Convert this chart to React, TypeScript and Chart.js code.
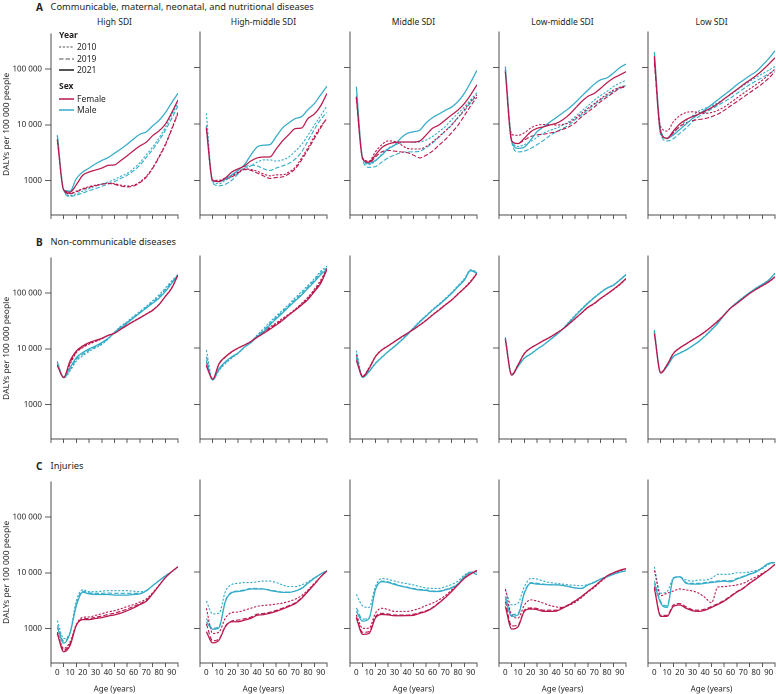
import React, { useEffect, useRef } from "react";
import { Chart, registerables } from "chart.js";

Chart.register(...registerables);

// ---------- data ----------
const AGES = [0, 5, 10, 15, 20, 25, 30, 35, 40, 45, 50, 55, 60, 65, 70, 75, 80, 85, 90, 95];
const X_TICKS = [-5, 5, 15, 25, 35, 45, 55, 65, 75, 85, 95];
const Y_TICKS = [1000, 10000, 100000];
const YEARS = ["2010", "2019", "2021"];
const SEXES = ["Female", "Male"];
const ROW_LETTERS = ["A", "B", "C"];
const ROW_TITLES = [
  "Communicable, maternal, neonatal, and nutritional diseases",
  "Non-communicable diseases",
  "Injuries",
];
const COLUMN_TITLES = ["High SDI", "High-middle SDI", "Middle SDI", "Low-middle SDI", "Low SDI"];

// series order in each panel: Female 2010, Female 2019, Female 2021, Male 2010, Male 2019, Male 2021
const A_HIGH = [
  [5500, 680, 590, 650, 720, 780, 830, 870, 900, 880, 830, 800, 830, 950, 1200, 1700, 2700, 4500, 8500, 17000],
  [5300, 670, 580, 630, 700, 760, 810, 860, 890, 860, 800, 770, 800, 920, 1150, 1650, 2600, 4300, 8200, 16000],
  [5500, 680, 620, 850, 1250, 1430, 1550, 1680, 1880, 1920, 2300, 2800, 3450, 4200, 4900, 6400, 7800, 10300, 16500, 28000],
  [6500, 680, 540, 580, 650, 720, 800, 870, 950, 1050, 1200, 1350, 1650, 2100, 2900, 4000, 5800, 9000, 15000, 25000],
  [6300, 670, 520, 550, 600, 660, 720, 790, 870, 960, 1100, 1250, 1500, 1900, 2600, 3600, 5200, 8000, 13000, 22000],
  [6500, 680, 650, 1090, 1430, 1680, 2000, 2300, 2600, 3100, 3700, 4500, 5600, 6800, 7500, 9600, 12000, 16500, 25000, 37000],
];
const A_HIGH_MIDDLE = [
  [9000, 1000, 1000, 1100, 1200, 1400, 1600, 1550, 1450, 1300, 1200, 1250, 1250, 1400, 1700, 2500, 3800, 6000, 9000, 12500],
  [8000, 980, 980, 1050, 1150, 1350, 1550, 1500, 1350, 1200, 1080, 1120, 1150, 1300, 1600, 2300, 3500, 5500, 8500, 13000],
  [8500, 1000, 950, 1100, 1400, 1600, 1800, 2200, 2500, 2600, 2600, 3600, 5000, 6500, 8300, 8500, 12500, 15000, 21000, 35000],
  [15500, 950, 870, 1000, 1150, 1350, 1600, 1800, 2100, 2300, 2300, 2200, 2300, 2600, 3300, 4300, 6300, 9500, 14000, 21000],
  [9500, 900, 800, 850, 1000, 1300, 1700, 1850, 1800, 1600, 1500, 1650, 1800, 2000, 2400, 3200, 5000, 8000, 12000, 16000],
  [9000, 1000, 950, 1050, 1250, 1500, 1900, 2800, 3900, 4200, 4300, 6000, 8500, 10500, 12500, 13500, 18000, 23000, 33000, 47000],
];
const A_MIDDLE = [
  [30000, 2500, 2200, 3200, 4300, 5000, 4900, 4300, 3700, 3600, 3600, 4000, 4800, 6000, 7500, 9500, 13000, 18000, 25000, 33000],
  [28000, 2400, 2000, 2600, 3200, 3400, 3300, 3200, 3100, 2800, 2500, 2800, 3300, 4200, 5300, 7000, 9500, 14000, 21000, 30000],
  [30000, 2400, 2100, 2800, 3800, 4400, 4700, 4800, 4800, 4800, 5000, 6400, 8400, 9600, 11800, 14500, 17700, 23000, 33000, 50000],
  [32000, 2500, 1900, 2200, 2900, 3700, 4200, 4600, 4800, 4700, 4800, 5200, 6000, 7300, 9000, 12000, 15500, 20000, 27000, 36000],
  [30000, 2300, 1700, 1750, 2100, 2500, 2800, 3100, 3200, 3200, 3300, 3800, 4600, 5800, 7500, 9800, 13000, 17000, 24000, 33000],
  [46000, 2450, 2000, 2250, 2800, 3600, 4200, 5600, 6800, 7300, 7800, 10500, 13000, 15000, 17500, 20000, 25000, 35000, 55000, 90000],
];
const A_LOW_MIDDLE = [
  [90000, 6500, 6300, 7000, 8500, 9500, 9800, 9800, 9600, 9800, 10500, 12500, 15500, 19000, 23000, 28000, 34000, 40000, 45000, 48000],
  [85000, 5000, 4500, 5200, 6000, 6400, 6600, 6900, 7300, 8000, 8900, 10500, 13500, 16500, 20000, 25000, 30000, 36000, 43000, 46000],
  [85000, 5000, 4500, 5600, 7300, 8400, 8900, 9600, 10300, 11800, 14500, 19000, 25000, 31000, 35000, 43000, 54000, 65000, 74000, 85000],
  [95000, 5500, 4000, 4300, 4900, 5800, 6900, 7700, 8400, 9500, 11000, 13500, 17000, 21000, 26500, 32000, 38000, 46000, 53000, 60000],
  [90000, 4800, 3200, 3300, 3700, 4300, 5100, 6200, 7300, 8300, 9600, 12000, 14500, 18000, 22000, 27000, 32000, 38000, 44000, 48000],
  [105000, 5000, 3700, 3900, 5200, 7300, 8900, 10800, 13000, 15700, 19000, 24000, 31000, 40000, 51000, 61000, 66000, 80000, 100000, 116000],
];
const A_LOW = [
  [130000, 9000, 7500, 11000, 14000, 16000, 16500, 16000, 15500, 16000, 17500, 20000, 24000, 29000, 35000, 42000, 50000, 60000, 75000, 95000],
  [120000, 7000, 5500, 7000, 9000, 10500, 11500, 12000, 12500, 13500, 15000, 17500, 21000, 25000, 30000, 36000, 43000, 52000, 65000, 85000],
  [160000, 7000, 5600, 7500, 10000, 12000, 13500, 15000, 17000, 19500, 23000, 28000, 34000, 41000, 50000, 60000, 72000, 90000, 115000, 150000],
  [150000, 8000, 5500, 7000, 9000, 11500, 14000, 17000, 19000, 21000, 24000, 28000, 33000, 40000, 48000, 57000, 67000, 78000, 90000, 105000],
  [140000, 6500, 5000, 5500, 6800, 8500, 11000, 13500, 16000, 18500, 21500, 25000, 29000, 35000, 42000, 50000, 58000, 67000, 78000, 90000],
  [190000, 7500, 5600, 6400, 8000, 10000, 12500, 15000, 18000, 22000, 27000, 33000, 40000, 50000, 60000, 72000, 85000, 110000, 145000, 200000],
];

const B_HIGH = [
  [5300, 3100, 5300, 8600, 10500, 12200, 13500, 15200, 17500, 19500, 23000, 27000, 31500, 36500, 42500, 50000, 63000, 88000, 125000, 215000],
  [5100, 3050, 5700, 8900, 10900, 12600, 13900, 15300, 17300, 19200, 22700, 26700, 31200, 36200, 42200, 49500, 62500, 87500, 123000, 213000],
  [5000, 3100, 6100, 9200, 11300, 13000, 14200, 15500, 17500, 19000, 22500, 26500, 31000, 36000, 42000, 49000, 62000, 87000, 122000, 212000],
  [6000, 3000, 4000, 6100, 7500, 9000, 10400, 12000, 15000, 20000, 25600, 31000, 38500, 47000, 58000, 73000, 93000, 123000, 165000, 217000],
  [5700, 3050, 4300, 6500, 8000, 9500, 10800, 12500, 15200, 19800, 25000, 30000, 37000, 45500, 56000, 69000, 87000, 115000, 157000, 214000],
  [5500, 3100, 4600, 7000, 8600, 10000, 11300, 13000, 15500, 19500, 24000, 29000, 36000, 44000, 54000, 66000, 81000, 107000, 150000, 212000],
];
const B_HIGH_MIDDLE = [
  [5500, 2800, 5200, 6900, 8500, 9900, 11300, 13100, 16000, 19500, 23500, 28000, 33500, 40000, 49000, 62000, 80000, 110000, 160000, 260000],
  [5000, 2800, 5200, 6900, 8500, 10000, 11300, 13000, 15700, 18800, 22500, 26800, 32000, 39000, 48000, 60000, 76000, 105000, 150000, 255000],
  [4800, 2800, 5300, 7000, 8600, 10000, 11300, 13000, 15500, 18200, 21500, 25600, 31000, 38500, 47000, 58000, 73000, 100000, 140000, 250000],
  [9200, 2800, 4000, 5300, 6600, 8000, 10200, 12800, 17000, 22000, 29000, 37000, 47000, 60000, 78000, 100000, 130000, 170000, 230000, 285000],
  [7000, 2700, 4100, 5500, 6800, 8100, 10300, 12600, 16400, 20500, 27000, 35000, 44500, 57000, 73000, 93000, 122000, 160000, 215000, 265000],
  [6000, 2700, 4300, 5700, 7000, 8200, 10400, 12400, 15900, 19500, 25600, 33000, 42000, 54000, 69000, 87000, 115000, 150000, 200000, 250000],
];
const B_MIDDLE = [
  [7500, 3200, 4500, 7100, 9300, 11000, 13000, 15300, 18000, 21300, 25800, 31500, 39000, 48000, 59000, 72000, 92000, 117000, 155000, 215000],
  [6500, 3100, 4400, 7000, 9200, 10900, 12900, 15300, 18000, 21300, 25500, 31000, 38500, 47000, 58000, 71000, 90000, 115000, 150000, 210000],
  [6000, 3100, 4300, 7000, 9200, 10900, 13000, 15500, 18200, 21500, 25600, 31000, 38500, 47000, 58000, 71000, 91000, 115000, 150000, 212000],
  [9000, 3100, 3900, 5400, 6900, 8700, 10800, 13600, 17500, 23000, 30000, 38000, 48500, 60000, 76000, 97000, 128000, 170000, 245000, 225000],
  [8000, 3000, 3800, 5300, 6800, 8600, 10700, 13400, 17200, 22700, 29500, 37500, 47500, 59000, 74000, 95000, 125000, 165000, 240000, 218000],
  [7000, 3000, 3800, 5300, 6800, 8600, 10600, 13300, 17000, 22500, 29000, 37000, 47000, 58000, 73000, 93000, 123000, 160000, 236000, 212000],
];
const B_LOW_MIDDLE = [
  [15000, 3400, 5100, 8100, 10100, 11700, 13600, 15600, 18300, 21600, 26500, 33000, 41500, 52000, 61000, 75000, 90000, 108000, 132000, 168000],
  [14500, 3300, 5000, 8000, 10000, 11600, 13500, 15500, 18200, 21500, 26600, 33300, 41800, 52500, 61500, 75500, 90500, 109000, 134000, 170000],
  [14000, 3300, 5000, 8000, 10000, 11600, 13500, 15500, 18200, 21500, 26700, 33500, 42000, 53000, 62000, 76000, 91000, 110000, 135000, 172000],
  [15500, 3400, 4800, 6700, 7900, 9600, 11400, 14000, 17300, 22000, 29000, 38500, 50000, 64000, 80000, 98000, 117000, 133000, 163000, 205000],
  [15000, 3300, 4700, 6600, 7800, 9500, 11300, 13900, 17100, 21700, 28500, 37500, 49000, 63000, 79000, 97000, 116000, 131000, 161000, 202000],
  [14500, 3300, 4700, 6600, 7800, 9500, 11300, 13900, 17000, 21500, 28000, 37000, 48000, 62000, 78000, 96000, 115000, 130000, 160000, 200000],
];
const B_LOW = [
  [19000, 3700, 5100, 8100, 10100, 11900, 14000, 16400, 19600, 24200, 30500, 39000, 51500, 62500, 76500, 93500, 110000, 127000, 148000, 180000],
  [18500, 3600, 5000, 8000, 10000, 11800, 13900, 16300, 19500, 24100, 30200, 38700, 51200, 62200, 76200, 93200, 110000, 127500, 149000, 183000],
  [18000, 3600, 5000, 8000, 10000, 11800, 13900, 16300, 19500, 24000, 30000, 38500, 51000, 62000, 76000, 93000, 110000, 128000, 150000, 185000],
  [21000, 3700, 4800, 7100, 8200, 9300, 11000, 13200, 16600, 21500, 28000, 39500, 52000, 65000, 80000, 97000, 116000, 136000, 162000, 215000],
  [20500, 3600, 4700, 7000, 8100, 9200, 10900, 13100, 16400, 21200, 27700, 39000, 51500, 64500, 79500, 96500, 115500, 135500, 161000, 213000],
  [20000, 3600, 4700, 7000, 8100, 9200, 10900, 13000, 16300, 21000, 27500, 38500, 51000, 64000, 79000, 96000, 115000, 135000, 160000, 212000],
];

const C_HIGH = [
  [870, 440, 580, 1200, 1600, 1620, 1730, 1850, 2000, 2100, 2270, 2500, 2700, 3000, 3400, 4400, 6000, 8200, 10500, 12900],
  [840, 410, 540, 1170, 1500, 1520, 1600, 1680, 1800, 1900, 2050, 2250, 2500, 2800, 3200, 4250, 5900, 8200, 10500, 12900],
  [810, 385, 500, 1150, 1450, 1450, 1520, 1580, 1680, 1770, 1900, 2100, 2350, 2700, 3100, 4200, 5900, 8200, 10500, 12900],
  [1400, 665, 870, 3200, 5000, 4600, 4600, 4700, 4800, 4800, 4800, 4800, 4700, 4600, 4800, 5900, 7300, 8900, 10500, 12900],
  [1150, 600, 840, 2800, 4700, 4400, 4300, 4300, 4350, 4300, 4300, 4300, 4300, 4300, 4700, 5900, 7250, 8850, 10500, 12900],
  [1050, 550, 830, 2600, 4500, 4200, 4100, 4100, 4100, 4000, 4000, 4000, 4100, 4200, 4800, 5900, 7200, 8800, 10500, 12900],
];
const C_HIGH_MIDDLE = [
  [2270, 810, 860, 1520, 1900, 1950, 2100, 2270, 2450, 2550, 2600, 2700, 2800, 3000, 3300, 3800, 4800, 6300, 8200, 10500],
  [1200, 600, 650, 1100, 1350, 1400, 1480, 1580, 1780, 1830, 1930, 2080, 2280, 2530, 2830, 3500, 4600, 6100, 8200, 10500],
  [870, 550, 620, 1070, 1310, 1310, 1400, 1500, 1700, 1750, 1850, 2000, 2200, 2450, 2750, 3400, 4500, 6000, 8200, 10500],
  [3050, 1800, 1850, 4500, 6000, 6300, 6500, 6500, 6700, 6900, 6900, 6500, 5900, 5500, 5500, 5900, 6700, 7900, 9200, 10500],
  [1500, 1000, 1080, 3100, 4400, 4600, 4800, 5100, 5100, 5000, 4800, 4600, 4400, 4400, 4600, 5200, 6400, 7800, 9200, 10500],
  [1300, 960, 1030, 3000, 4300, 4500, 4700, 5000, 5000, 5000, 4700, 4500, 4350, 4350, 4600, 5100, 6300, 7700, 9200, 10500],
];
const C_MIDDLE = [
  [1730, 1000, 1000, 1850, 2270, 2150, 2000, 2000, 2000, 2100, 2270, 2550, 2800, 3200, 3800, 4800, 6100, 7900, 9500, 10700],
  [1600, 850, 870, 1600, 1850, 1800, 1720, 1720, 1720, 1780, 1900, 2050, 2350, 2850, 3550, 4550, 5950, 7750, 9300, 10700],
  [1520, 780, 810, 1520, 1760, 1730, 1670, 1670, 1680, 1700, 1850, 2000, 2300, 2800, 3500, 4500, 5900, 7700, 9200, 10700],
  [4000, 2500, 2350, 5500, 7700, 7400, 6900, 6500, 6200, 5900, 5500, 5200, 5100, 5100, 5500, 6000, 6900, 8800, 10000, 10000],
  [2300, 1450, 1550, 4900, 6900, 6700, 6200, 5700, 5400, 5100, 4900, 4800, 4600, 4600, 4900, 5300, 6200, 8300, 9950, 9200],
  [2000, 1340, 1500, 4800, 6700, 6500, 6000, 5600, 5300, 5000, 4800, 4700, 4500, 4500, 4800, 5200, 6100, 8200, 9900, 9000],
];
const C_LOW_MIDDLE = [
  [5000, 1730, 1520, 2600, 3200, 3050, 2800, 2550, 2400, 2350, 2550, 2900, 3500, 4400, 5300, 6700, 8200, 9500, 10300, 11500],
  [3000, 1100, 1150, 2100, 2300, 2250, 2100, 2100, 2100, 2350, 2650, 3100, 3700, 4550, 5550, 6900, 8500, 9700, 10700, 11500],
  [2450, 970, 1070, 2000, 2200, 2150, 2000, 2000, 2020, 2270, 2600, 3050, 3650, 4500, 5500, 6900, 8500, 9700, 10700, 11500],
  [4800, 2600, 2800, 5500, 7700, 7500, 6900, 6500, 6300, 6100, 5900, 5800, 5700, 6000, 6700, 7500, 8500, 9100, 9900, 10500],
  [3700, 1750, 1850, 4400, 6500, 6300, 6100, 5950, 5950, 5800, 5550, 5250, 5150, 5850, 6550, 7500, 8250, 9100, 9900, 10500],
  [3400, 1630, 1730, 4200, 6300, 6100, 6000, 5900, 5900, 5750, 5500, 5200, 5100, 5900, 6500, 7500, 8200, 9100, 9900, 10500],
];
const C_LOW = [
  [10700, 3800, 4200, 4600, 5000, 4800, 4600, 4200, 3500, 2850, 5400, 5500, 5700, 5900, 6300, 7200, 8200, 9500, 11000, 13700],
  [5500, 1700, 1700, 2600, 2750, 2400, 2150, 2100, 2200, 2450, 2750, 3150, 3750, 4500, 5200, 6400, 7600, 9200, 11000, 13700],
  [5100, 1630, 1630, 2450, 2600, 2270, 2050, 2000, 2100, 2350, 2650, 3050, 3650, 4400, 5100, 6300, 7500, 9100, 11000, 13700],
  [12400, 4200, 4500, 7700, 8200, 7200, 6900, 7200, 7200, 7700, 9100, 9100, 9200, 9700, 9700, 10000, 10700, 11500, 13700, 14700],
  [7000, 3000, 2500, 7900, 8300, 6500, 6300, 6300, 6500, 6700, 6900, 7100, 7000, 7700, 8400, 9300, 10200, 12000, 14300, 14800],
  [6300, 2800, 2350, 7700, 8200, 6300, 6100, 6100, 6300, 6500, 6700, 6900, 6700, 7500, 8200, 9100, 10000, 11800, 14200, 14700],
];

const PANELS = [
  [A_HIGH, A_HIGH_MIDDLE, A_MIDDLE, A_LOW_MIDDLE, A_LOW],
  [B_HIGH, B_HIGH_MIDDLE, B_MIDDLE, B_LOW_MIDDLE, B_LOW],
  [C_HIGH, C_HIGH_MIDDLE, C_MIDDLE, C_LOW_MIDDLE, C_LOW],
];

// ---------- style / layout ----------
const FONT = "'Noto Sans', 'DejaVu Sans', sans-serif";
const TEXT = "#231f20";
const AXIS = "#4a4a4a";
const SEX_COLORS = ["#b8194c", "#34abc8"];
const YEAR_DASH = [[2.2, 1.6], [4.5, 2], []];
const COL_LEFT = [51, 200, 350, 499, 648];
const ROW_TOP = [32, 256, 480];
const PW = 127;
const PH = 183;
const Y_MIN = 242;
const Y_MAX = 431000;

function fmtY(v: number) {
  if (v >= 10000) {
    const s = String(Math.round(v));
    return s.slice(0, s.length - 3) + " " + s.slice(s.length - 3);
  }
  return String(v);
}

function Panel({ r, c }: { r: number; c: number }) {
  const ref = useRef<HTMLCanvasElement | null>(null);
  const padL = c === 0 ? 51 : 12;
  const padR = c === 4 ? 1 : 6;
  const padT = 6;
  const padB = r === 2 ? 31 : 8;
  const left = COL_LEFT[c] - padL;
  const top = ROW_TOP[r] - padT;
  const w = padL + PW + padR;
  const h = padT + PH + padB;
  const series = PANELS[r][c];
  const isFirst = c === 0;
  const isBottom = r === 2;

  useEffect(() => {
    if (!ref.current) return;
    const datasets = series.map((vals: number[], i: number) => {
      const sex = i < 3 ? 0 : 1;
      const yr = i % 3;
      return {
        label: SEXES[sex] + " " + YEARS[yr],
        data: AGES.map((a, k) => ({ x: a, y: vals[k] })),
        borderColor: SEX_COLORS[sex],
        backgroundColor: SEX_COLORS[sex],
        borderWidth: yr === 2 ? 1.25 : 1.1,
        borderDash: YEAR_DASH[yr],
        pointRadius: 0,
        cubicInterpolationMode: "monotone" as const,
        fill: false,
        order: yr === 2 ? 0 : 1,
      };
    });
    const chart = new Chart(ref.current, {
      type: "line",
      data: { datasets },
      options: {
        animation: false,
        responsive: false,
        maintainAspectRatio: false,
        devicePixelRatio: 2,
        layout: { padding: { top: padT, right: padR, left: 0, bottom: 0 } },
        plugins: { legend: { display: false }, tooltip: { enabled: false } },
        scales: {
          x: {
            type: "linear",
            min: -5,
            max: 95,
            afterBuildTicks: (s: any) => {
              s.ticks = X_TICKS.map((v) => ({ value: v }));
            },
            afterFit: (s: any) => {
              s.height = padB;
            },
            ticks: {
              display: isBottom,
              autoSkip: false,
              maxRotation: 0,
              minRotation: 0,
              padding: 1,
              labelOffset: (PW / 100) * 5,
              color: TEXT,
              font: { family: FONT, size: 8 },
              callback: (v: any) => (Number(v) < 95 ? String(Number(v) + 5) : ""),
            },
            grid: { drawOnChartArea: false, drawTicks: true, tickLength: 4, color: AXIS, lineWidth: 0.9 },
            border: { display: true, color: AXIS, width: 1 },
            title: {
              display: isBottom,
              text: "Age (years)",
              color: TEXT,
              font: { family: FONT, size: 8 },
              padding: { top: 0, bottom: 0 },
            },
          },
          y: {
            type: "logarithmic",
            min: Y_MIN,
            max: Y_MAX,
            afterBuildTicks: (s: any) => {
              s.ticks = Y_TICKS.map((v) => ({ value: v }));
            },
            afterFit: (s: any) => {
              s.width = padL;
            },
            ticks: {
              display: isFirst,
              autoSkip: false,
              padding: 3,
              color: TEXT,
              font: { family: FONT, size: 8 },
              callback: (v: any) => fmtY(Number(v)),
            },
            grid: { drawOnChartArea: false, drawTicks: true, tickLength: 6, color: AXIS, lineWidth: 0.9 },
            border: { display: true, color: AXIS, width: 1 },
            title: {
              display: isFirst,
              text: "DALYs per 100 000 people",
              color: TEXT,
              font: { family: FONT, size: 8.5 },
              padding: { top: 1.5, bottom: 0 },
            },
          },
        },
      } as any,
    });
    return () => chart.destroy();
  }, []);

  return (
    <canvas
      ref={ref}
      width={w}
      height={h}
      style={{ position: "absolute", left, top, width: w, height: h }}
    />
  );
}

function Txt({
  x,
  cy,
  children,
  size = 8.5,
  bold = false,
  center = false,
}: {
  x: number;
  cy: number;
  children: React.ReactNode;
  size?: number;
  bold?: boolean;
  center?: boolean;
}) {
  const style: React.CSSProperties = {
    position: "absolute",
    top: cy - 7,
    height: 14,
    lineHeight: "14px",
    fontSize: size,
    fontWeight: bold ? 700 : 400,
    whiteSpace: "nowrap",
    color: TEXT,
    fontFamily: FONT,
  };
  if (center) {
    style.left = x - 60;
    style.width = 120;
    style.textAlign = "center";
  } else {
    style.left = x;
  }
  return <div style={style}>{children}</div>;
}

function LegendLine({ y, color, dash, width }: { y: number; color: string; dash: number[]; width: number }) {
  return (
    <svg style={{ position: "absolute", left: 59, top: y - 3, width: 16, height: 6, overflow: "visible" }}>
      <line
        x1={0}
        y1={3}
        x2={15}
        y2={3}
        stroke={color}
        strokeWidth={width}
        strokeDasharray={dash.length ? dash.join(" ") : undefined}
      />
    </svg>
  );
}

export default function App() {
  const rowTitleY = [7, 241.5, 465.5];
  const legendYears = [46.5, 58.5, 70];
  const legendSex = [98.5, 110];
  return (
    <div
      style={{
        position: "absolute",
        left: 0,
        top: 0,
        width: 776,
        height: 694,
        overflow: "hidden",
        background: "#ffffff",
        fontFamily: FONT,
      }}
    >
      {ROW_LETTERS.map((L, r) => (
        <React.Fragment key={L}>
          <Txt x={36} cy={rowTitleY[r]} size={10} bold>
            {L}
          </Txt>
          <Txt x={50.5} cy={rowTitleY[r]} size={9.3}>
            {ROW_TITLES[r]}
          </Txt>
        </React.Fragment>
      ))}
      {COLUMN_TITLES.map((t, c) => (
        <Txt key={t} x={COL_LEFT[c] + PW / 2} cy={21.7} size={8.5} center>
          {t}
        </Txt>
      ))}
      {PANELS.map((row, r) => row.map((_, c) => <Panel key={r + "-" + c} r={r} c={c} />))}
      <Txt x={59} cy={35} size={8.5} bold>
        Year
      </Txt>
      {YEARS.map((yr, i) => (
        <React.Fragment key={yr}>
          <LegendLine y={legendYears[i]} color="#555555" dash={YEAR_DASH[i]} width={i === 2 ? 2 : 1.1} />
          <Txt x={77} cy={legendYears[i]} size={8.5}>
            {yr}
          </Txt>
        </React.Fragment>
      ))}
      <Txt x={59} cy={86} size={8.5} bold>
        Sex
      </Txt>
      {SEXES.map((s, i) => (
        <React.Fragment key={s}>
          <LegendLine y={legendSex[i]} color={SEX_COLORS[i]} dash={[]} width={1.5} />
          <Txt x={77} cy={legendSex[i]} size={8.5}>
            {s}
          </Txt>
        </React.Fragment>
      ))}
    </div>
  );
}
